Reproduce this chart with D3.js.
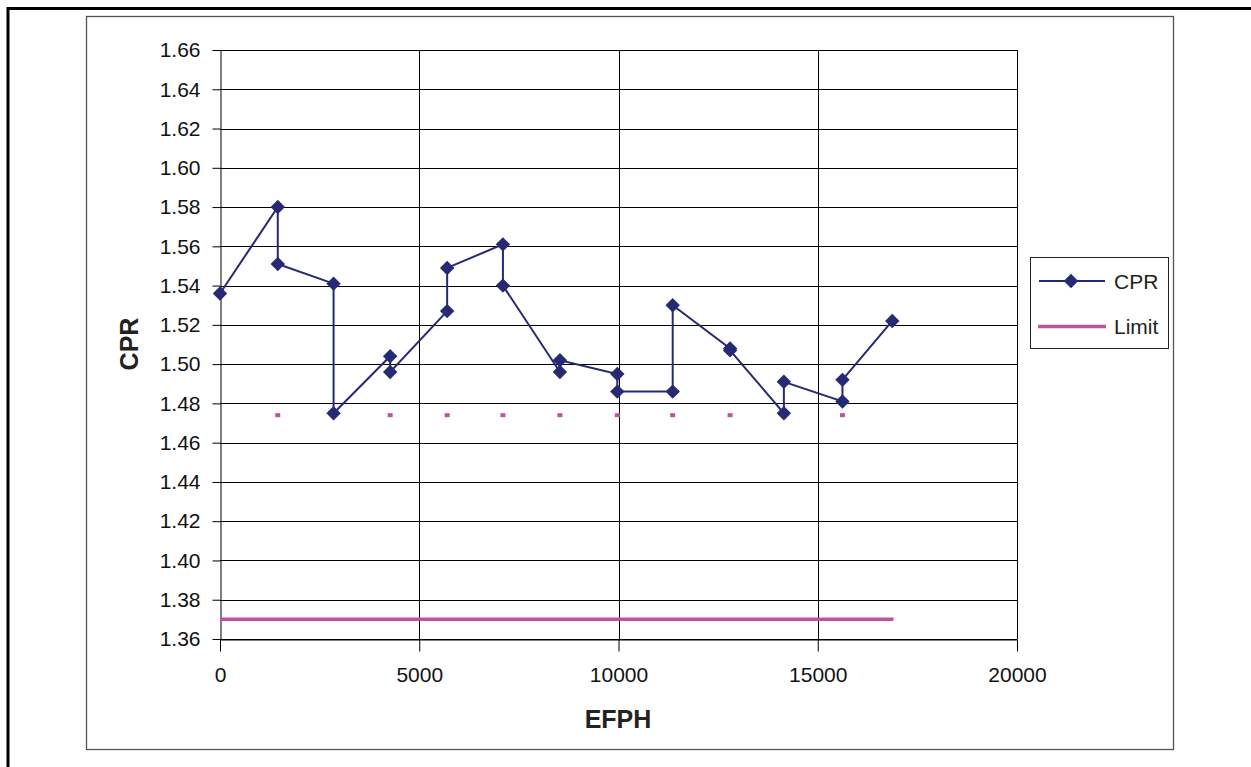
<!DOCTYPE html>
<html>
<head>
<meta charset="utf-8">
<script src="https://cdn.jsdelivr.net/npm/d3@7"></script>
<style>
  body { margin: 0; background: #fff; }
  text { font-family: "Liberation Sans", Arial, sans-serif; }
</style>
</head>
<body>
<svg id="canvas" width="1251" height="767"></svg>
<script>
// CPR readings, two per inspection (before / after)
const efph = [0, 1450, 1450, 2850, 2850, 4270, 4270, 5700, 5700, 7100, 7100, 8530,
              8530, 9970, 9970, 11360, 11360, 12800, 12800, 14150, 14150, 15620, 15620, 16870];
const cpr = [1.536, 1.580, 1.551, 1.541, 1.475, 1.504, 1.496, 1.527, 1.549, 1.561, 1.540, 1.496,
             1.502, 1.495, 1.486, 1.486, 1.530, 1.508, 1.507, 1.475, 1.491, 1.481, 1.492, 1.522];

// dotted minimum markers
const minEfph = [1450, 2850, 4270, 5700, 7100, 8530, 9970, 11360, 12800, 14150, 15620];
const minValue = 1.474;

// limit line
const limitEfph = [0, 16900];
const limitValue = 1.37;

const xTicks = [0, 5000, 10000, 15000, 20000];
const yTicks = d3.range(1.36, 1.6601, 0.02);

const navy = '#262a73';
const pink = '#c2529f';

let svg = d3.select('#canvas');

// outer frame
svg.append('path')
    .attr('d', 'M8,767 V8.5 H1251')
    .attr('fill', 'none')
    .attr('stroke', '#000')
    .attr('stroke-width', 3);

// chart area
svg.append('rect')
    .attr('x', 86.5).attr('y', 16.5)
    .attr('width', 1087).attr('height', 733)
    .attr('fill', '#fff')
    .attr('stroke', '#555')
    .attr('stroke-width', 1.3);

let x = d3.scaleLinear().domain([0, 20000]).range([220, 1017]);
let y = d3.scaleLinear().domain([1.36, 1.66]).range([639, 50]);

// gridlines
svg.append('g').selectAll('line').data(yTicks).enter().append('line')
    .attr('x1', 220).attr('x2', 1017)
    .attr('y1', d => Math.round(y(d)) + 0.5).attr('y2', d => Math.round(y(d)) + 0.5)
    .attr('stroke', '#000').attr('stroke-width', 1);
svg.append('g').selectAll('line').data(xTicks.slice(1)).enter().append('line')
    .attr('y1', 50).attr('y2', 639)
    .attr('x1', d => Math.round(x(d)) + 0.5).attr('x2', d => Math.round(x(d)) + 0.5)
    .attr('stroke', '#000').attr('stroke-width', 1);

// axes
let yAxis = svg.append('g')
    .attr('transform', 'translate(220.5,0)')
    .call(d3.axisLeft(y).tickValues(yTicks).tickFormat(d3.format('.2f'))
        .tickSize(8).tickSizeOuter(0).tickPadding(12));

let xAxis = svg.append('g')
    .attr('transform', 'translate(0,639.5)')
    .call(d3.axisBottom(x).tickValues(xTicks).tickFormat(d3.format('d'))
        .tickSize(12).tickSizeOuter(0).tickPadding(16));

[xAxis, yAxis].forEach(a => {
    a.selectAll('text').style('font-size', '21px').attr('fill', '#111');
    a.selectAll('line').attr('stroke', '#000');
    a.select('.domain').attr('stroke', '#000');
});

// axis titles
svg.append('text')
    .attr('x', 618).attr('y', 728)
    .attr('text-anchor', 'middle')
    .style('font-size', '25px').style('font-weight', 'bold')
    .attr('fill', '#222')
    .text('EFPH');

svg.append('text')
    .attr('transform', 'translate(138,344) rotate(-90)')
    .attr('text-anchor', 'middle')
    .style('font-size', '25px').style('font-weight', 'bold')
    .attr('fill', '#222')
    .text('CPR');

// limit line
svg.append('line')
    .attr('x1', x(limitEfph[0])).attr('x2', x(limitEfph[1]))
    .attr('y1', y(limitValue)).attr('y2', y(limitValue))
    .attr('stroke', pink).attr('stroke-width', 3.5);

// minimum markers
svg.append('g').selectAll('rect').data(minEfph).enter().append('rect')
    .attr('x', d => x(d) - 2.5).attr('y', y(minValue) - 2)
    .attr('width', 5).attr('height', 4)
    .attr('fill', pink);

// CPR series
let points = efph.map((e, i) => [e, cpr[i]]);

svg.append('path')
    .datum(points)
    .attr('fill', 'none')
    .attr('stroke', navy)
    .attr('stroke-width', 2)
    .attr('d', d3.line().x(d => x(d[0])).y(d => y(d[1])));

let diamond = d3.symbol(d3.symbolSquare, 104);

svg.append('g').selectAll('path').data(points).enter().append('path')
    .attr('d', diamond)
    .attr('transform', d => 'translate(' + x(d[0]) + ',' + y(d[1]) + ') rotate(45)')
    .attr('fill', navy);

// legend
let legend = svg.append('g');
legend.append('rect')
    .attr('x', 1030.5).attr('y', 257.5)
    .attr('width', 138).attr('height', 91)
    .attr('fill', '#fff').attr('stroke', '#222').attr('stroke-width', 1);

legend.append('line')
    .attr('x1', 1039).attr('x2', 1105).attr('y1', 281).attr('y2', 281)
    .attr('stroke', navy).attr('stroke-width', 2);
legend.append('path')
    .attr('d', diamond)
    .attr('transform', 'translate(1071,281) rotate(45)')
    .attr('fill', navy);
legend.append('text')
    .attr('x', 1114).attr('y', 288.5)
    .style('font-size', '21px').attr('fill', '#222')
    .text('CPR');

legend.append('line')
    .attr('x1', 1038).attr('x2', 1106).attr('y1', 326.5).attr('y2', 326.5)
    .attr('stroke', pink).attr('stroke-width', 3.5);
legend.append('text')
    .attr('x', 1114).attr('y', 334)
    .style('font-size', '21px').attr('fill', '#222')
    .text('Limit');
</script>
</body>
</html>
